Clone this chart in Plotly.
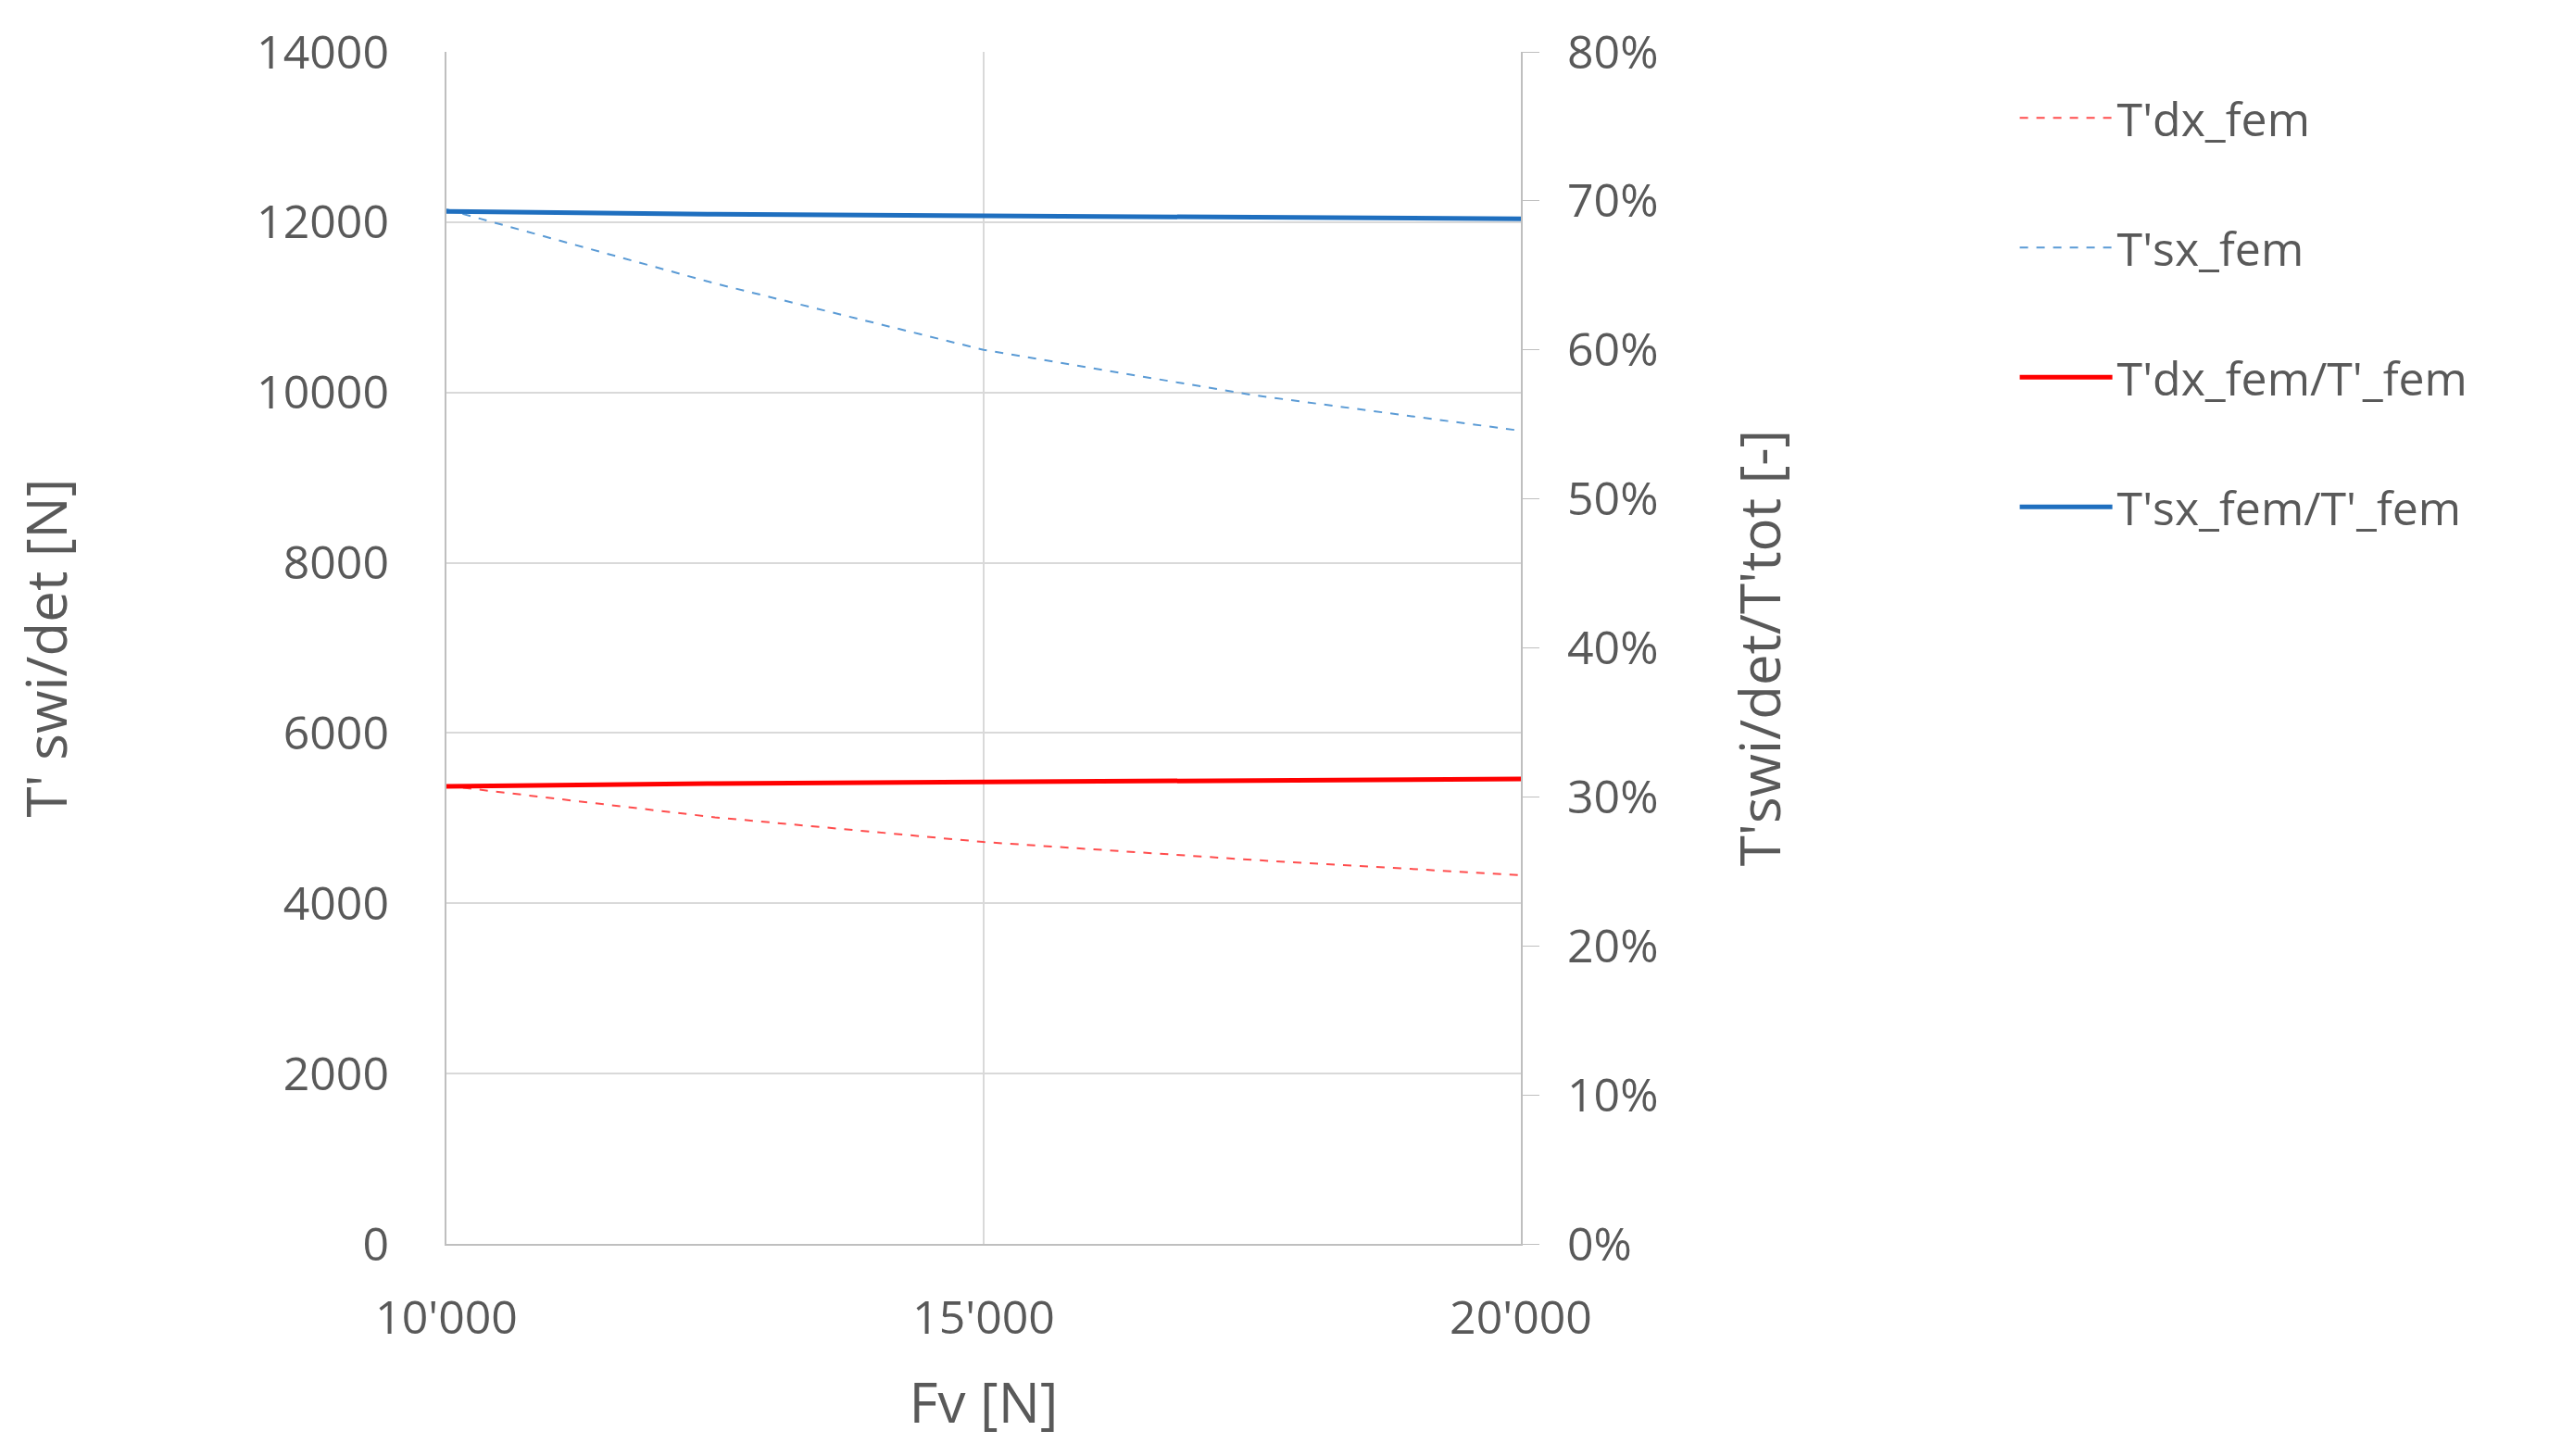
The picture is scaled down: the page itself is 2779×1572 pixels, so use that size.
import plotly.graph_objects as go

fv = [10000, 12500, 15000, 17500, 20000]
t_dx = [5380, 5010, 4720, 4510, 4330]
t_sx = [12150, 11280, 10500, 9970, 9550]
r_dx = [0.307, 0.309, 0.310, 0.311, 0.312]
r_sx = [0.693, 0.691, 0.690, 0.689, 0.688]

x_ticks = [10000, 15000, 20000]
x_labels = ["10'000", "15'000", "20'000"]

grey = "#595959"
font = dict(family="Open Sans", size=50, color=grey)

fig = go.Figure()
fig.add_trace(go.Scatter(x=fv, y=t_dx, mode="lines", name="T'dx_fem",
                         line=dict(color="#ff4d4d", width=2, dash="dash")))
fig.add_trace(go.Scatter(x=fv, y=t_sx, mode="lines", name="T'sx_fem",
                         line=dict(color="#5b9bd5", width=2, dash="dash")))
fig.add_trace(go.Scatter(x=fv, y=r_dx, mode="lines", name="T'dx_fem/T'_fem",
                         line=dict(color="#ff0000", width=5), yaxis="y2"))
fig.add_trace(go.Scatter(x=fv, y=r_sx, mode="lines", name="T'sx_fem/T'_fem",
                         line=dict(color="#1f6fbf", width=5), yaxis="y2"))

fig.update_layout(
    width=2779, height=1572,
    paper_bgcolor="white", plot_bgcolor="white",
    font=font,
    margin=dict(l=436, r=1145, t=38, b=237),
    xaxis=dict(range=[10000, 20000], tickvals=x_ticks, ticktext=x_labels,
               showgrid=True, gridcolor="#d9d9d9", gridwidth=2,
               showline=True, linecolor="#bfbfbf", linewidth=2,
               ticks="", ticklabelstandoff=35,
               title=dict(text="Fv [N]", standoff=40)),
    yaxis=dict(range=[0, 14000], dtick=2000, tickformat="d", showgrid=True,
               gridcolor="#d9d9d9", gridwidth=2, showline=True,
               linecolor="#bfbfbf", linewidth=2, zeroline=False, ticks="",
               ticklabelstandoff=50,
               title=dict(text="T' swi/det [N]", standoff=215)),
    yaxis2=dict(range=[0, 0.8], dtick=0.1, tickformat=".0%", overlaying="y",
                side="right", showgrid=False, showline=True, linecolor="#bfbfbf",
                linewidth=2, ticks="outside", ticklen=18, tickcolor="#bfbfbf",
                zeroline=False, ticklabelstandoff=20,
                title=dict(text="T'swi/det/T'tot [-]", standoff=90)),
    legend=dict(x=1.46, y=0.975, xanchor="left", yanchor="top",
                font=dict(family="Open Sans", size=50, color=grey),
                tracegroupgap=72, itemwidth=100),
    showlegend=True,
)
for i, tr in enumerate(fig.data):
    tr.legendgroup = str(i)

fig.write_html("out.html")
